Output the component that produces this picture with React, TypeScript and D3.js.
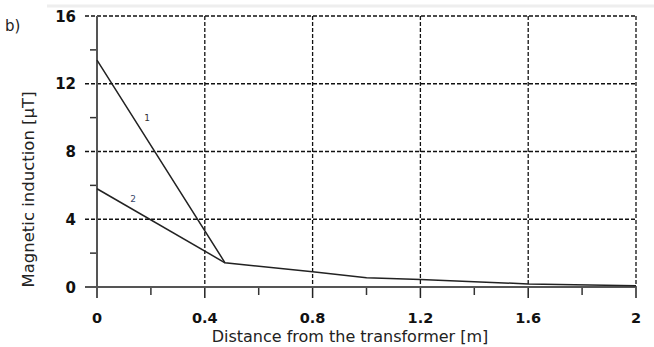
import React from "react";
import * as d3 from "d3";

const xTicks = [0, 0.4, 0.8, 1.2, 1.6, 2];
const xTickLabels = ["0", "0.4", "0.8", "1.2", "1.6", "2"];
const xMinorTicks = [0.2, 0.6, 1.0, 1.4, 1.8];
const yTicks = [0, 4, 8, 12, 16];
const yTickLabels = ["0", "4", "8", "12", "16"];
const yMinorTicks = [2, 6, 10, 14];

const series1X = [0, 0.475, 0.8, 1.0, 1.2, 1.6, 2];
const series1Y = [13.4, 1.43, 0.9, 0.55, 0.45, 0.18, 0.08];
const series2X = [0, 0.475];
const series2Y = [5.8, 1.43];

const W = 654;
const H = 347;

export default function App() {
  const x = d3.scaleLinear().domain([0, 2]).range([97, 636]);
  const y = d3.scaleLinear().domain([0, 16]).range([287, 16]);
  const line = d3
    .line<[number, number]>()
    .x((d) => x(d[0]))
    .y((d) => y(d[1]));
  const s1 = series1X.map((v, i) => [v, series1Y[i]] as [number, number]);
  const s2 = series2X.map((v, i) => [v, series2Y[i]] as [number, number]);
  const left = 85;
  const font = "'DejaVu Sans', Verdana, sans-serif";

  return (
    <svg
      width={W}
      height={H}
      style={{ position: "absolute", left: 0, top: 0, background: "#fff" }}
    >
      <line x1={47} x2={654} y1={6} y2={6} stroke="#eeeeee" strokeWidth={3} />
      <text x={5} y={31} fontFamily={font} fontSize={15} fill="#222">
        b)
      </text>
      {/* horizontal grid */}
      {yTicks
        .filter((t) => t !== 0)
        .map((t) => (
          <line
            key={"hg" + t}
            x1={left}
            x2={x(2)}
            y1={y(t)}
            y2={y(t)}
            stroke="#111"
            strokeWidth={1.3}
            strokeDasharray="4,2"
          />
        ))}
      {/* vertical grid */}
      {xTicks
        .filter((t) => t !== 0)
        .map((t) => (
          <g key={"vg" + t}>
            <line
              x1={x(t)}
              x2={x(t)}
              y1={y(16)}
              y2={y(0)}
              stroke="#111"
              strokeWidth={1.3}
              strokeDasharray="4,2"
            />
            <line
              x1={x(t)}
              x2={x(t)}
              y1={y(0)}
              y2={y(0) + 11}
              stroke="#222"
              strokeWidth={1.5}
            />
          </g>
        ))}
      {/* minor ticks */}
      {xMinorTicks.map((t) => (
        <line
          key={"xm" + t}
          x1={x(t)}
          x2={x(t)}
          y1={y(0)}
          y2={y(0) + 8}
          stroke="#333"
          strokeWidth={1.5}
        />
      ))}
      {yMinorTicks.map((t) => (
        <line
          key={"ym" + t}
          x1={x(0) - 7}
          x2={x(0)}
          y1={y(t)}
          y2={y(t)}
          stroke="#333"
          strokeWidth={1.5}
        />
      ))}
      {/* axes */}
      <line x1={left} x2={x(2)} y1={y(0)} y2={y(0)} stroke="#555" strokeWidth={2} />
      <line x1={x(0)} x2={x(0)} y1={y(16)} y2={y(0) + 11} stroke="#555" strokeWidth={2} />
      {/* series */}
      <path d={line(s1) || ""} fill="none" stroke="#222" strokeWidth={1.5} />
      <path d={line(s2) || ""} fill="none" stroke="#222" strokeWidth={1.5} />
      <text x={147} y={121} fontFamily={font} fontSize={9} fill="#333" textAnchor="middle">
        1
      </text>
      <text x={133} y={202} fontFamily={font} fontSize={9} fill="#3a4a6a" textAnchor="middle">
        2
      </text>
      {/* tick labels */}
      {yTicks.map((t, i) => (
        <text
          key={"yl" + t}
          x={76}
          y={y(t) + 5.5}
          fontFamily={font}
          fontSize={15}
          fontWeight="bold"
          fill="#111"
          textAnchor="end"
        >
          {yTickLabels[i]}
        </text>
      ))}
      {xTicks.map((t, i) => (
        <text
          key={"xl" + t}
          x={x(t)}
          y={323}
          fontFamily={font}
          fontSize={14.5}
          fontWeight="bold"
          fill="#111"
          textAnchor="middle"
        >
          {xTickLabels[i]}
        </text>
      ))}
      {/* axis titles */}
      <text
        x={350}
        y={342}
        fontFamily={font}
        fontSize={16}
        fill="#222"
        textAnchor="middle"
      >
        Distance from the transformer [m]
      </text>
      <text
        transform={`translate(34,189.5) rotate(-90)`}
        fontFamily={font}
        fontSize={16.5}
        fill="#222"
        textAnchor="middle"
      >
        Magnetic induction [μT]
      </text>
    </svg>
  );
}
